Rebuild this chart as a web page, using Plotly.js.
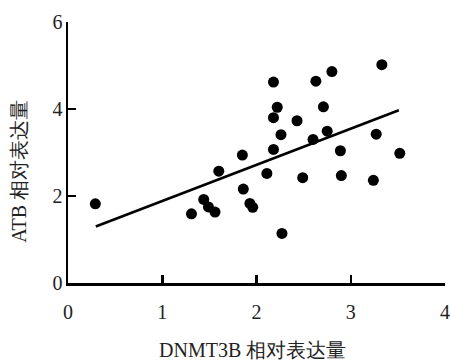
<!DOCTYPE html>
<html>
<head>
<meta charset="utf-8">
<script src="https://cdn.plot.ly/plotly-3.0.1.min.js"></script>
<style>html,body{margin:0;padding:0;background:#fff}#chart{width:450px;height:361px}</style>
</head>
<body>
<div id="chart"></div>
<script>
const dnmt3b = [0.29,1.31,1.44,1.49,1.56,1.60,1.85,1.86,1.93,1.96,2.11,2.18,2.18,2.22,2.18,2.26,2.27,2.43,2.49,2.60,2.63,2.71,2.75,2.80,2.89,2.90,3.24,3.27,3.33,3.52];
const atb    = [1.82,1.59,1.92,1.75,1.63,2.57,2.94,2.16,1.83,1.74,2.52,4.62,3.80,4.04,3.07,3.41,1.14,3.73,2.42,3.30,4.64,4.05,3.49,4.86,3.04,2.47,2.36,3.42,5.02,2.98];
const fitX = [0.295, 3.51];
const fitY = [1.30, 3.97];
const xTicks = [0,1,2,3,4];
const yTicks = [0,2,4,6];
const xTitle = 'DNMT3B 相对表达量';
const yTitle = 'ATB 相对表达量';

const FONT = "Liberation Serif";

const traces = [
  {x: dnmt3b, y: atb, type: 'scatter', mode: 'markers',
   marker: {color: '#000', size: 11}, hoverinfo: 'skip'},
  {x: fitX, y: fitY, type: 'scatter', mode: 'lines',
   line: {color: '#000', width: 2.6}, hoverinfo: 'skip'}
];

function axis(range, vals, standoff) {
  return {
    range: range, tickmode: 'array', tickvals: vals, ticktext: vals.map(String),
    showgrid: false, zeroline: false, showline: true, linecolor: '#000000', linewidth: 2.5, mirror: false,
    ticks: 'inside', ticklen: 8, tickwidth: 2.5, tickcolor: '#000000',
    tickfont: {family: FONT, size: 20, color: '#222222'}, ticklabelstandoff: standoff, fixedrange: true
  };
}

const layout = {
  width: 450, height: 361,
  margin: {l: 68, r: 5, t: 21.5, b: 77.5},
  font: {family: FONT, size: 20, color: '#222222'},
  paper_bgcolor: '#fff', plot_bgcolor: '#fff',
  showlegend: false,
  xaxis: axis([0, 4], xTicks, 9),
  yaxis: axis([0, 6], yTicks, -1),
  annotations: [
    {text: xTitle, xref: 'paper', yref: 'paper', x: 0.49, y: -0.258, xanchor: 'center', yanchor: 'middle',
     showarrow: false, font: {family: FONT, size: 20, color: '#222'}},
    {text: yTitle, xref: 'paper', yref: 'paper', x: -0.13, y: 0.43, xanchor: 'center', yanchor: 'middle',
     textangle: -90, showarrow: false, font: {family: FONT, size: 20, color: '#222'}}
  ]
};

Plotly.newPlot('chart', traces, layout, {displayModeBar: false, staticPlot: true});
</script>
</body>
</html>
